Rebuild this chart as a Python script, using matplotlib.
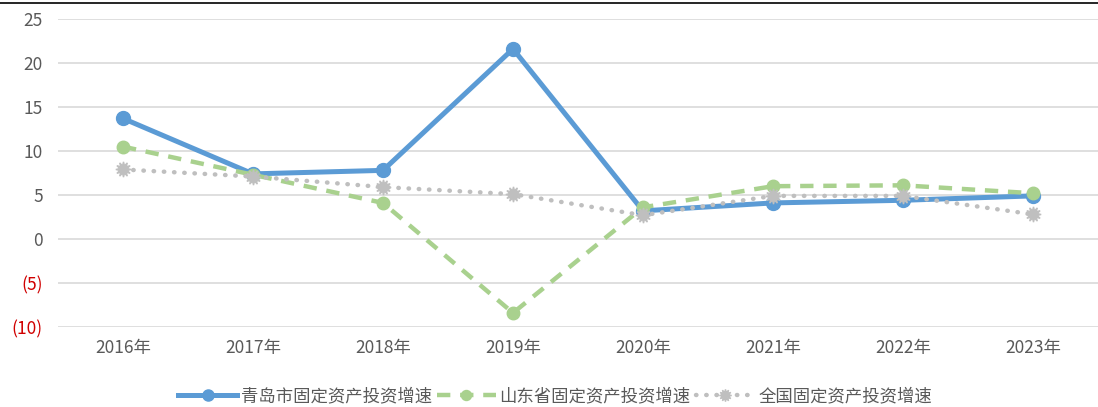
import matplotlib.pyplot as plt
from matplotlib.ticker import FixedLocator

plt.rcParams['font.family'] = ['Noto Sans CJK SC', 'DejaVu Sans']

years = ['2016年', '2017年', '2018年', '2019年', '2020年', '2021年', '2022年', '2023年']
qingdao = [13.7, 7.4, 7.8, 21.6, 3.2, 4.1, 4.4, 4.9]
shandong = [10.5, 7.3, 4.1, -8.4, 3.6, 6.0, 6.1, 5.2]
national = [7.9, 7.1, 5.9, 5.1, 2.7, 4.9, 4.9, 2.8]
yticks = [-10, -5, 0, 5, 10, 15, 20, 25]

blue = '#5B9BD5'
green = '#A9D18E'
gray = '#BFBFBF'

fig = plt.figure(figsize=(10.98, 4.07), dpi=100)
ax = fig.add_axes([58 / 1098, 1 - 327 / 407, 1 - 58 / 1098, (327 - 19) / 407])

x = list(range(len(years)))
ax.plot(x, qingdao, color=blue, lw=3.6, marker='o', ms=10, label='青岛市固定资产投资增速', zorder=3)
ax.plot(x, shandong, color=green, lw=3.2, ls=(0, (3, 2.2)), marker='o', ms=9,
        label='山东省固定资产投资增速', zorder=4)
ax.plot(x, national, color=gray, lw=3.2, ls=(0, (0.1, 2.2)), dash_capstyle='round',
        marker=(12, 1, 0), ms=11, label='全国固定资产投资增速', zorder=5)

ax.set_xlim(-0.5, len(years) - 0.5)
ax.set_ylim(-10, 25)
ax.yaxis.set_major_locator(FixedLocator(yticks))
ax.set_xticks(x)
ax.set_xticklabels(years)
ax.set_yticklabels([f'({-v})' if v < 0 else str(v) for v in yticks])
for lab, v in zip(ax.get_yticklabels(), yticks):
    lab.set_color('#D00000' if v < 0 else '#595959')
for lab in ax.get_xticklabels():
    lab.set_color('#595959')
ax.tick_params(axis='both', length=0, labelsize=12.5)
ax.tick_params(axis='y', pad=11)
ax.tick_params(axis='x', pad=9)
ax.grid(axis='y', color='#D9D9D9', lw=1.2)
ax.set_axisbelow(True)
for s in ax.spines.values():
    s.set_visible(False)

fig.add_artist(plt.Line2D([0, 1], [1 - 3 / 407, 1 - 3 / 407], color='black', lw=1.2))

fig.legend(loc='center', bbox_to_anchor=(555 / 1098, 1 - 396 / 407), ncol=3, frameon=False,
           fontsize=12.5, handlelength=3.4, columnspacing=0.3, handletextpad=0.2,
           markerscale=0.8, labelcolor='#595959')

fig.savefig('out.png', dpi=100)
